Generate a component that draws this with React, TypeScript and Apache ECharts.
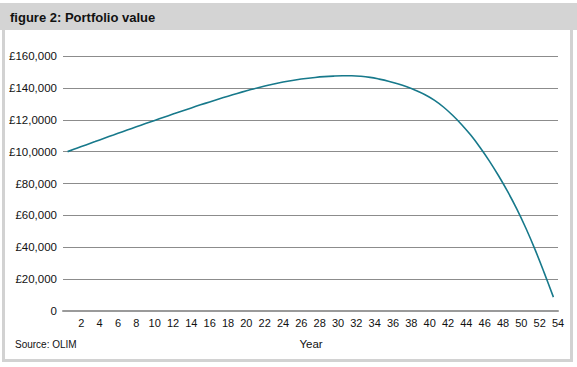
import React, { useEffect, useRef } from "react";
import * as echarts from "echarts";

const years = [
  0.5, 1.5, 2.5, 3.5, 4.5, 5.5, 6.5, 7.5, 8.5, 9.5,
  10.5, 11.5, 12.5, 13.5, 14.5, 15.5, 16.5, 17.5, 18.5, 19.5,
  20.5, 21.5, 22.5, 23.5, 24.5, 25.5, 26.5, 27.5, 28.5, 29.5,
  30.5, 31.5, 32.5, 33.5, 34.5, 35.5, 36.5, 37.5, 38.5, 39.5,
  40.5, 41.5, 42.5, 43.5, 44.5, 45.5, 46.5, 47.5, 48.5, 49.5,
  50.5, 51.5, 52.5, 53.5,
];

const portfolioValue = [
  100000, 102100, 104200, 106300, 108400, 110450, 112500, 114550, 116580, 118600,
  120600, 122580, 124540, 126480, 128400, 130280, 132120, 133920, 135660, 137340,
  138940, 140440, 141820, 143060, 144160, 145110, 145900, 146550, 147050, 147400,
  147600, 147620, 147300, 146600, 145500, 144200, 142600, 140700, 138400, 135700,
  132300, 128000, 122800, 116900, 110200, 102600, 94200, 85000, 75000, 64100,
  51900, 38500, 23900, 8700,
];

const yTickLabels = [
  "0", "£20,000", "£40,000", "£60,000", "£80,000",
  "£10,0000", "£12,0000", "£140,000", "£160,000",
];

const titleText = "figure 2: Portfolio value";
const sourceText = "Source: OLIM";
const xAxisName = "Year";

const FONT = "'Liberation Sans Narrow', 'Arial Narrow', 'Liberation Sans', sans-serif";

export default function App() {
  const ref = useRef<HTMLDivElement>(null);

  useEffect(() => {
    if (!ref.current) return;
    const chart = echarts.init(ref.current, null, { renderer: "svg" });
    const frame = "#d2d2d2";
    chart.setOption({
      animation: false,
      backgroundColor: "#ffffff",
      textStyle: { fontFamily: FONT },
      grid: { left: 63, right: 19, top: 56, bottom: 56 },
      xAxis: {
        type: "value",
        min: 0,
        max: 54,
        interval: 2,
        axisLine: { show: true, lineStyle: { color: "#9a9a9a", width: 2 } },
        axisTick: { show: false },
        splitLine: { show: false },
        axisLabel: {
          color: "#111",
          fontSize: 11,
          fontFamily: FONT,
          margin: 6,
          formatter: (v: number) => (v === 0 ? "" : String(v)),
        },
      },
      yAxis: {
        type: "value",
        min: 0,
        max: 160000,
        interval: 20000,
        axisLine: { show: false },
        axisTick: { show: false },
        splitLine: { show: true, lineStyle: { color: "#8c8c8c", width: 1 } },
        axisLabel: {
          color: "#111",
          fontSize: 11.5,
          fontFamily: FONT,
          margin: 6,
          formatter: (v: number) => yTickLabels[Math.round(v / 20000)] ?? "",
        },
      },
      series: [
        {
          type: "line",
          data: years.map((y, i) => [y, portfolioValue[i]]),
          showSymbol: false,
          smooth: 0.4,
          lineStyle: { color: "#17798b", width: 1.6 },
          z: 3,
        },
      ],
      graphic: [
        { type: "rect", shape: { x: 0, y: 3, width: 577, height: 27 }, style: { fill: "#d4d4d4" }, silent: true },
        { type: "rect", shape: { x: 2, y: 30, width: 3, height: 332 }, style: { fill: frame }, silent: true },
        { type: "rect", shape: { x: 570, y: 30, width: 3, height: 332 }, style: { fill: frame }, silent: true },
        { type: "rect", shape: { x: 2, y: 359, width: 571, height: 3 }, style: { fill: frame }, silent: true },
        {
          type: "text",
          x: 10,
          y: 17,
          style: { text: titleText, fill: "#111", font: `bold 13px ${FONT}`, textVerticalAlign: "middle" },
          silent: true,
        },
        {
          type: "text",
          x: 15,
          y: 344,
          style: { text: sourceText, fill: "#111", font: `10px ${FONT}`, textVerticalAlign: "middle" },
          silent: true,
        },
        {
          type: "text",
          x: 311,
          y: 344,
          style: { text: xAxisName, fill: "#111", font: `11.5px ${FONT}`, textAlign: "center", textVerticalAlign: "middle" },
          silent: true,
        },
      ],
    });
    return () => chart.dispose();
  }, []);

  return (
    <div
      ref={ref}
      style={{ position: "fixed", left: 0, top: 0, width: 577, height: 367 }}
    />
  );
}
